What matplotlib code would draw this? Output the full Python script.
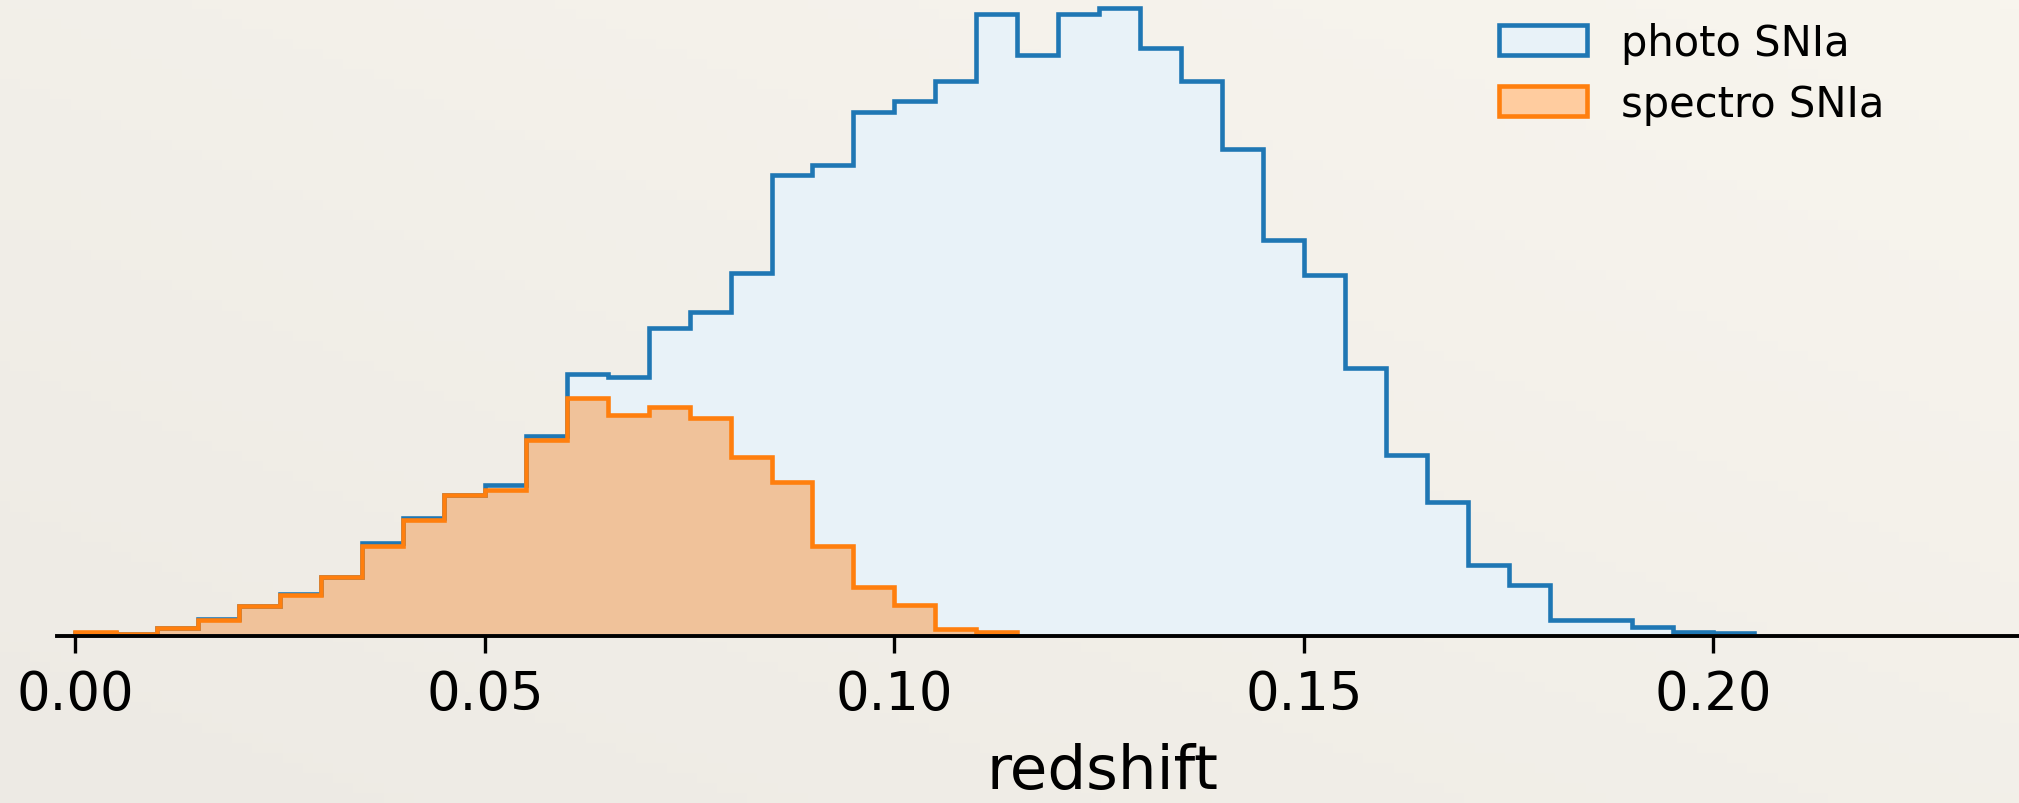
import numpy as np
import matplotlib.pyplot as plt
from matplotlib.patches import Patch
from matplotlib.colors import LinearSegmentedColormap

# histogram counts, bins of width 0.005 starting at z=0
bin_width = 0.005
photo_counts = [1.5, 0, 6.5, 15.3, 28.5, 40, 57.5, 91, 116, 139.5,
                149, 198, 260, 257, 306, 322, 361, 459, 469, 522,
                533, 553, 620, 579, 620, 626, 586, 553, 485, 394,
                359, 266, 179, 132, 69, 49, 14, 14, 7, 2, 1.5]
spectro_counts = [1.7, 0, 6, 13.7, 28, 39, 57, 88, 114, 139,
                  144, 194, 236, 219, 227, 216, 177, 152, 88, 47,
                  29, 5, 2.3]
labels = ["photo SNIa", "spectro SNIa"]
tick_values = [0.0, 0.05, 0.10, 0.15, 0.20]

photo_edges = np.arange(len(photo_counts) + 1) * bin_width
spectro_edges = np.arange(len(spectro_counts) + 1) * bin_width

paper = "#f4f1ea"
blue, blue_fill = "#1f77b4", "#e8f2f8"
orange, orange_fill, orange_leg = "#ff7f0e", "#f0c29a", "#ffcc9f"

W, H = 2019, 804
fig = plt.figure(figsize=(W / 100, H / 100), dpi=100, facecolor=paper)

# paper-like background: lighter top right, a bit greyer bottom left
bg = fig.add_axes([0, 0, 1, 1], zorder=-10)
gx, gy = np.meshgrid(np.linspace(0, 1, 200), np.linspace(0, 1, 80))
shade = 0.5 * (1 - gx) + 0.5 * gy  # row 0 is the top
paper_cmap = LinearSegmentedColormap.from_list("paper", ["#f8f5ee", "#edeae4"])
bg.imshow(shade, cmap=paper_cmap, aspect="auto", extent=[0, 1, 0, 1])
bg.set_axis_off()

ax = fig.add_axes([57 / W, 169 / H, 1 - 57 / W, 635 / H])
ax.set_facecolor("none")

ax.stairs(photo_counts, photo_edges, fill=True, color=blue_fill, zorder=1)
ax.stairs(photo_counts, photo_edges, color=blue, lw=3.3, zorder=3)
ax.stairs(spectro_counts, spectro_edges, fill=True, color=orange_fill, zorder=2)
ax.stairs(spectro_counts, spectro_edges, color=orange, lw=3.3, zorder=4)

ax.set_xlim(-0.00223, 0.2373)
ax.set_ylim(0, 635)

for s in ["top", "left", "right"]:
    ax.spines[s].set_visible(False)
ax.spines["bottom"].set_linewidth(2.8)
ax.spines["bottom"].set_color("black")
ax.spines["bottom"].set_position(("outward", 1.5))

ax.set_yticks([])
ax.set_xticks(tick_values)
ax.set_xticklabels([f"{v:.2f}" for v in tick_values])
ax.tick_params(axis="x", length=12, width=2.4, labelsize=38, pad=11)
ax.set_xlabel("redshift", fontsize=44, labelpad=16)
ax.xaxis.label.set_x((1102 - 57) / (W - 57))

handles = [Patch(facecolor=blue_fill, edgecolor=blue, lw=3.3),
           Patch(facecolor=orange_leg, edgecolor=orange, lw=3.3)]
ax.legend(handles, labels, loc="upper left", bbox_to_anchor=(1499 / W, 1 - 23 / H),
          bbox_transform=fig.transFigure, frameon=False, fontsize=30,
          handlelength=2.1, handleheight=0.73, handletextpad=0.82,
          labelspacing=0.45, borderaxespad=0, borderpad=0)

fig.savefig("out.png", dpi=100)
